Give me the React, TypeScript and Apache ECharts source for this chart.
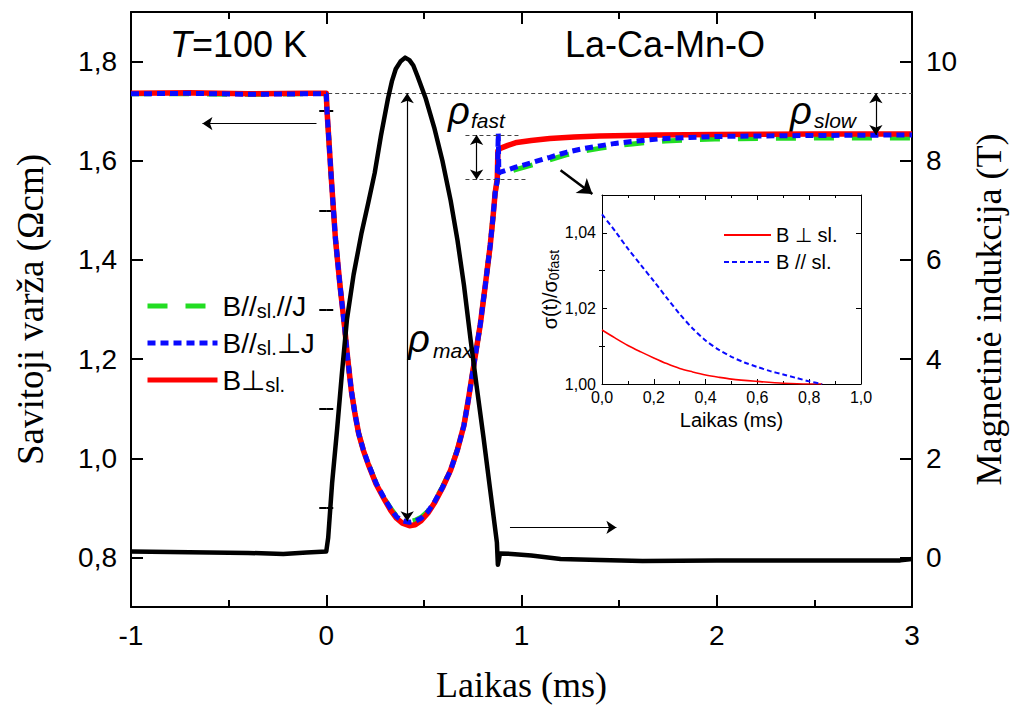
import React, { useEffect, useRef } from "react";
import * as echarts from "echarts";

// ---------------- data ----------------
const leftMajorTicks = [0.8, 1.0, 1.2, 1.4, 1.6, 1.8];
const leftMinorTicks = [0.9, 1.1, 1.3, 1.5, 1.7];
const rightMajorTicks = [0, 2, 4, 6, 8, 10];
const rightMinorTicks = [1, 3, 5, 7, 9];
const insetYMajorTicks = [1.0, 1.02, 1.04];
const insetYMinorTicks = [1.01, 1.03];

// magnetic field pulse (T)
const fieldTime = [-1, -0.8, -0.6, -0.4, -0.22, -0.1, 0, 0.01, 0.03, 0.056, 0.08, 0.106, 0.14, 0.181, 0.215, 0.248, 0.28, 0.316, 0.336, 0.356, 0.38, 0.404, 0.426, 0.446, 0.468, 0.51, 0.553, 0.595, 0.637, 0.672, 0.705, 0.739, 0.772, 0.806, 0.84, 0.874, 0.879, 0.89, 0.95, 1.05, 1.2, 1.4, 1.62, 2.0, 2.4, 2.94, 3];
const fieldValue = [0.12, 0.11, 0.1, 0.09, 0.07, 0.1, 0.12, 0.4, 1.5, 2.6, 3.7, 4.8, 5.7, 6.55, 7.15, 7.75, 8.5, 9.25, 9.6, 9.85, 10.0, 10.08, 10.03, 9.92, 9.7, 9.25, 8.67, 8.0, 7.2, 6.4, 5.5, 4.4, 3.4, 2.4, 1.35, 0.3, -0.15, 0.08, 0.07, 0.04, -0.03, -0.05, -0.07, -0.06, -0.06, -0.06, -0.03];

// resistivity, B perpendicular to film
const redTime = [-1, -0.7, -0.4, -0.1, 0, 0.004, 0.025, 0.047, 0.07, 0.094, 0.11, 0.129, 0.147, 0.166, 0.19, 0.214, 0.255, 0.299, 0.33, 0.36, 0.39, 0.426, 0.456, 0.486, 0.52, 0.553, 0.595, 0.637, 0.672, 0.705, 0.726, 0.747, 0.768, 0.789, 0.815, 0.84, 0.855, 0.865, 0.876, 0.879, 0.891, 0.93, 0.976, 1.05, 1.145, 1.27, 1.4, 1.7, 1.99, 2.5, 3];
const redRho = [1.736, 1.737, 1.735, 1.736, 1.736, 1.7, 1.57, 1.443, 1.35, 1.265, 1.2, 1.135, 1.09, 1.05, 1.016, 0.989, 0.948, 0.916, 0.895, 0.879, 0.869, 0.864, 0.866, 0.874, 0.889, 0.909, 0.94, 0.976, 1.017, 1.066, 1.114, 1.166, 1.218, 1.27, 1.35, 1.43, 1.49, 1.535, 1.564, 1.62, 1.625, 1.631, 1.637, 1.641, 1.645, 1.648, 1.65, 1.652, 1.653, 1.654, 1.654];

// B // film, perpendicular to J
const blueTime = [-1, -0.7, -0.4, -0.1, 0, 0.004, 0.025, 0.047, 0.07, 0.094, 0.11, 0.129, 0.147, 0.166, 0.19, 0.214, 0.255, 0.299, 0.33, 0.36, 0.39, 0.426, 0.456, 0.486, 0.52, 0.553, 0.595, 0.637, 0.672, 0.705, 0.726, 0.747, 0.768, 0.789, 0.815, 0.84, 0.855, 0.865, 0.876, 0.881, 0.884, 0.891, 0.97, 1.06, 1.145, 1.229, 1.31, 1.4, 1.48, 1.568, 1.65, 1.737, 1.86, 1.99, 2.5, 3];
const blueRho = [1.735, 1.736, 1.734, 1.735, 1.735, 1.7, 1.57, 1.443, 1.35, 1.265, 1.2, 1.135, 1.09, 1.05, 1.017, 0.99, 0.95, 0.918, 0.898, 0.882, 0.874, 0.871, 0.873, 0.879, 0.892, 0.911, 0.941, 0.976, 1.017, 1.066, 1.114, 1.166, 1.218, 1.27, 1.35, 1.43, 1.49, 1.535, 1.56, 1.655, 1.575, 1.577, 1.587, 1.597, 1.607, 1.617, 1.624, 1.63, 1.635, 1.639, 1.642, 1.645, 1.647, 1.649, 1.651, 1.652];

// B // film // J
const greenTime = [-1, -0.7, -0.4, -0.1, 0, 0.004, 0.025, 0.047, 0.07, 0.094, 0.11, 0.129, 0.147, 0.166, 0.19, 0.214, 0.255, 0.299, 0.33, 0.36, 0.39, 0.426, 0.456, 0.486, 0.52, 0.553, 0.595, 0.637, 0.672, 0.705, 0.726, 0.747, 0.768, 0.789, 0.815, 0.84, 0.855, 0.865, 0.876, 0.884, 0.891, 0.97, 1.06, 1.145, 1.229, 1.31, 1.4, 1.48, 1.568, 1.65, 1.737, 1.86, 1.99, 2.5, 3];
const greenRho = [1.735, 1.735, 1.734, 1.735, 1.735, 1.7, 1.57, 1.443, 1.35, 1.265, 1.2, 1.135, 1.09, 1.05, 1.017, 0.99, 0.95, 0.918, 0.899, 0.883, 0.875, 0.872, 0.875, 0.881, 0.893, 0.912, 0.942, 0.977, 1.018, 1.066, 1.114, 1.166, 1.218, 1.27, 1.35, 1.43, 1.49, 1.535, 1.56, 1.571, 1.572, 1.582, 1.592, 1.602, 1.612, 1.619, 1.625, 1.63, 1.634, 1.637, 1.64, 1.642, 1.644, 1.646, 1.646];

// inset: normalized conductivity
const insetRedTime = [0, 0.05, 0.1, 0.15, 0.2, 0.25, 0.3, 0.35, 0.4, 0.45, 0.5, 0.6, 0.7, 0.8, 0.85];
const insetRedValue = [1.0143, 1.0122, 1.0102, 1.0085, 1.0069, 1.0054, 1.0041, 1.0032, 1.0024, 1.0018, 1.0013, 1.0007, 1.0002, 1.0, 1.0];
const insetBlueTime = [0, 0.05, 0.1, 0.15, 0.2, 0.25, 0.3, 0.35, 0.4, 0.45, 0.5, 0.55, 0.6, 0.65, 0.7, 0.75, 0.8, 0.85];
const insetBlueValue = [1.0449, 1.0405, 1.0358, 1.0315, 1.0272, 1.0228, 1.0185, 1.0147, 1.0115, 1.0091, 1.0072, 1.0057, 1.0045, 1.0034, 1.0025, 1.0016, 1.0007, 1.0];

// annotation levels (data units)
const rhoStart = 1.736;
const rhoFastTop = 1.652;
const rhoFastBottom = 1.562;
const rhoMin = 0.873;

const SANS = "'Liberation Sans', Arial, sans-serif";
const SERIF = "'Liberation Serif', 'Times New Roman', serif";

const zip = (a: number[], b: number[]) => a.map((v, i) => [v, b[i]]);
const comma = (d: number) => (v: number) => v.toFixed(d).replace(".", ",");

const BLACK = "#000";

function tickOnlyAxis(extra: any) {
  return {
    type: "value",
    axisLine: { show: false },
    axisLabel: { show: false },
    splitLine: { show: false },
    ...extra,
  };
}

function buildOption() {
  const mainTick = { show: true, inside: true, length: 12, lineStyle: { color: BLACK, width: 2 } };
  const mainMinor = { show: true, splitNumber: 2, length: 7, lineStyle: { color: BLACK, width: 2 } };
  const insetTick = { show: true, inside: true, length: 5, lineStyle: { color: BLACK, width: 1 } };
  const insetMinor = { show: true, splitNumber: 2, length: 3, lineStyle: { color: BLACK, width: 1 } };
  const mainLine = { show: true, onZero: false, lineStyle: { color: BLACK, width: 2 } };
  const insetLine = { show: true, onZero: false, lineStyle: { color: BLACK, width: 1 } };

  const dashed = (a: number[], b: number[]) => [
    { coord: a, symbol: "none", lineStyle: { type: [4, 3], color: "#444", width: 1 } },
    { coord: b, symbol: "none" },
  ];
  const arrow = (a: number[], b: number[], both: boolean, width = 1.2, size = 10) => [
    { coord: a, symbol: both ? "arrow" : "none", symbolSize: size, lineStyle: { type: "solid", color: BLACK, width } },
    { coord: b, symbol: "arrow", symbolSize: size },
  ];

  return {
    animation: false,
    backgroundColor: "#fff",
    grid: [
      { left: 131, top: 12, width: 787, height: 598 },
      { left: 602, top: 195, width: 259, height: 189 },
    ],
    xAxis: [
      {
        type: "value", gridIndex: 0, position: "bottom", min: -1, max: 3, interval: 1,
        axisLine: mainLine, axisTick: mainTick, minorTick: mainMinor, splitLine: { show: false },
        axisLabel: { fontFamily: SANS, fontSize: 28, color: BLACK, margin: 14 },
        name: "Laikas (ms)", nameLocation: "middle", nameGap: 60,
        nameTextStyle: { fontFamily: SERIF, fontSize: 36, color: BLACK },
      },
      {
        type: "value", gridIndex: 0, position: "top", min: -1, max: 3, interval: 1,
        axisLine: mainLine, axisTick: mainTick, minorTick: mainMinor, splitLine: { show: false },
        axisLabel: { show: false },
      },
      {
        type: "value", gridIndex: 1, position: "bottom", min: 0, max: 1, interval: 0.2,
        axisLine: insetLine, axisTick: insetTick, minorTick: insetMinor, splitLine: { show: false },
        axisLabel: { fontFamily: SANS, fontSize: 16, color: BLACK, margin: 5, formatter: comma(1) },
        name: "Laikas (ms)", nameLocation: "middle", nameGap: 26,
        nameTextStyle: { fontFamily: SANS, fontSize: 20, color: BLACK },
      },
      {
        type: "value", gridIndex: 1, position: "top", min: 0, max: 1, interval: 0.2,
        axisLine: insetLine, axisTick: insetTick, minorTick: insetMinor, splitLine: { show: false },
        axisLabel: { show: false },
      },
    ],
    yAxis: [
      {
        type: "value", gridIndex: 0, position: "left", min: 0.7, max: 1.9,
        axisLine: mainLine,
        axisTick: { ...mainTick, customValues: leftMajorTicks },
        axisLabel: { customValues: leftMajorTicks, formatter: comma(1), fontFamily: SANS, fontSize: 28, color: BLACK, margin: 14 },
        splitLine: { show: false },
        name: "Savitoji varža (Ωcm)", nameLocation: "middle", nameGap: 82,
        nameTextStyle: { fontFamily: SERIF, fontSize: 37, color: BLACK },
      },
      tickOnlyAxis({
        gridIndex: 0, position: "left", min: 0.7, max: 1.9,
        axisTick: { show: true, inside: true, length: 7, lineStyle: { color: BLACK, width: 2 }, customValues: leftMinorTicks },
      }),
      {
        type: "value", gridIndex: 0, position: "right", min: -1, max: 11,
        axisLine: mainLine,
        axisTick: { ...mainTick, customValues: rightMajorTicks },
        axisLabel: { customValues: rightMajorTicks, fontFamily: SANS, fontSize: 28, color: BLACK, margin: 14 },
        splitLine: { show: false },
        name: "Magnetinė indukcija (T)", nameLocation: "middle", nameGap: 59,
        nameTextStyle: { fontFamily: SERIF, fontSize: 36, color: BLACK },
      },
      tickOnlyAxis({
        gridIndex: 0, position: "right", min: -1, max: 11,
        axisTick: { show: true, inside: true, length: 7, lineStyle: { color: BLACK, width: 2 }, customValues: rightMinorTicks },
      }),
      {
        type: "value", gridIndex: 1, position: "left", min: 1.0, max: 1.05,
        axisLine: insetLine,
        axisTick: { ...insetTick, customValues: insetYMajorTicks },
        axisLabel: { customValues: insetYMajorTicks, formatter: comma(2), fontFamily: SANS, fontSize: 16, color: BLACK, margin: 6 },
        splitLine: { show: false },
        name: "{a|σ(t)/σ}{b|0fast}", nameLocation: "middle", nameGap: 40,
        nameTextStyle: {
          color: BLACK,
          rich: {
            a: { fontFamily: SANS, fontSize: 20, color: BLACK },
            b: { fontFamily: SANS, fontSize: 14, color: BLACK, padding: [8, 0, 0, 0] },
          },
        },
      },
      tickOnlyAxis({
        gridIndex: 1, position: "left", min: 1.0, max: 1.05,
        axisTick: { show: true, inside: true, length: 3, lineStyle: { color: BLACK, width: 1 }, customValues: insetYMinorTicks },
      }),
      {
        type: "value", gridIndex: 1, position: "right", min: 1.0, max: 1.05,
        axisLine: insetLine,
        axisTick: { ...insetTick, customValues: insetYMajorTicks },
        axisLabel: { show: false }, splitLine: { show: false },
      },
      tickOnlyAxis({
        gridIndex: 1, position: "right", min: 1.0, max: 1.05,
        axisTick: { show: true, inside: true, length: 3, lineStyle: { color: BLACK, width: 1 }, customValues: insetYMinorTicks },
      }),
    ],
    legend: [
      {
        data: ["B//sl.//J", "B//sl.⊥J", "B⊥sl."],
        orient: "vertical", left: 140, top: 286, itemWidth: 70, itemHeight: 14, itemGap: 7,
        selectedMode: false,
        itemStyle: { opacity: 0 },
        lineStyle: { width: 5 },
        formatter: (n: string) =>
          n === "B//sl.//J" ? "{b|B//}{s|sl.}{b|//J}" : n === "B//sl.⊥J" ? "{b|B//}{s|sl.}{b|⊥J}" : "{b|B⊥}{s|sl.}",
        textStyle: {
          fontFamily: SANS, fontSize: 28, color: BLACK, lineHeight: 30,
          rich: {
            b: { fontFamily: SANS, fontSize: 28, color: BLACK, lineHeight: 30 },
            s: { fontFamily: SANS, fontSize: 20, color: BLACK, lineHeight: 24, verticalAlign: "bottom" },
          },
        },
      },
      {
        data: ["B ⊥ sl.", "B // sl."],
        orient: "vertical", left: 718, top: 220, itemWidth: 47, itemHeight: 14, itemGap: 7,
        selectedMode: false,
        itemStyle: { opacity: 0 },
        lineStyle: { width: 2 },
        textStyle: { fontFamily: SANS, fontSize: 20, color: BLACK, lineHeight: 20 },
      },
    ],
    series: [
      {
        name: "B//sl.//J", type: "line", xAxisIndex: 0, yAxisIndex: 0, data: zip(greenTime, greenRho),
        symbol: "none",
        lineStyle: { color: "#22dd22", width: 5, type: [20, 18] }, itemStyle: { color: "#22dd22" }, z: 2,
      },
      {
        name: "B⊥sl.", type: "line", xAxisIndex: 0, yAxisIndex: 0, data: zip(redTime, redRho),
        symbol: "none",
        lineStyle: { color: "#ff0000", width: 5.5, join: "round" }, itemStyle: { color: "#ff0000" }, z: 3,
        markLine: {
          silent: true, animation: false, label: { show: false }, symbol: ["none", "none"],
          emphasis: { disabled: true },
          data: [
            dashed([0.01, rhoStart], [3, rhoStart]),
            dashed([0.713, rhoFastTop], [1.0, rhoFastTop]),
            dashed([0.713, rhoFastBottom], [1.028, rhoFastBottom]),
            arrow([-0.05, 1.675], [-0.634, 1.675], false),
            arrow([0.941, 0.8605], [1.486, 0.8605], false),
            arrow([0.4145, rhoStart], [0.4145, rhoMin], true),
            arrow([0.77, rhoFastTop], [0.77, rhoFastBottom], true),
            arrow([2.815, rhoStart], [2.815, rhoFastTop], true),
            arrow([1.2, 1.581], [1.363, 1.533], false, 2.5, 14),
          ],
        },
      },
      {
        name: "B//sl.⊥J", type: "line", xAxisIndex: 0, yAxisIndex: 0, data: zip(blueTime, blueRho),
        symbol: "none",
        lineStyle: { color: "#0a0aff", width: 5, type: [8, 5] }, itemStyle: { color: "#0a0aff" }, z: 4,
      },
      {
        name: "field", type: "line", xAxisIndex: 0, yAxisIndex: 2, data: zip(fieldTime, fieldValue),
        symbol: "none",
        lineStyle: { color: BLACK, width: 4.5, join: "round" }, itemStyle: { color: BLACK }, z: 5,
      },
      {
        name: "B ⊥ sl.", type: "line", xAxisIndex: 2, yAxisIndex: 4, data: zip(insetRedTime, insetRedValue),
        symbol: "none", smooth: 0.3,
        lineStyle: { color: "#ff0000", width: 1.6 }, itemStyle: { color: "#ff0000" },
      },
      {
        name: "B // sl.", type: "line", xAxisIndex: 2, yAxisIndex: 4, data: zip(insetBlueTime, insetBlueValue),
        symbol: "none", smooth: 0.3,
        lineStyle: { color: "#0a0aff", width: 2, type: [5, 3] }, itemStyle: { color: "#0a0aff" },
      },
    ],
    graphic: [
      { type: "text", left: 170, top: 26, style: { text: "T", font: `italic 36px ${SANS}`, fill: BLACK } },
      { type: "text", left: 192, top: 26, style: { text: "=100 K", font: `36px ${SANS}`, fill: BLACK } },
      { type: "text", left: 565, top: 26, style: { text: "La-Ca-Mn-O", font: `36px ${SANS}`, fill: BLACK } },
      { type: "text", left: 448, top: 92, style: { text: "ρ", font: `italic 38px ${SANS}`, fill: BLACK } },
      { type: "text", left: 471, top: 110, style: { text: "fast", font: `italic 21px ${SANS}`, fill: BLACK } },
      { type: "text", left: 790, top: 92, style: { text: "ρ", font: `italic 38px ${SANS}`, fill: BLACK } },
      { type: "text", left: 814, top: 110, style: { text: "slow", font: `italic 21px ${SANS}`, fill: BLACK } },
      { type: "text", left: 408, top: 320, style: { text: "ρ", font: `italic 38px ${SANS}`, fill: BLACK } },
      { type: "text", left: 433, top: 340, style: { text: "max", font: `italic 21px ${SANS}`, fill: BLACK } },
    ],
  };
}

export default function App() {
  const ref = useRef<HTMLDivElement>(null);
  useEffect(() => {
    const chart = echarts.init(ref.current!, null, { renderer: "svg" });
    chart.setOption(buildOption() as any);
    return () => chart.dispose();
  }, []);
  return (
    <div
      ref={ref}
      style={{ position: "absolute", left: 0, top: 0, width: 1015, height: 708, background: "#fff" }}
    />
  );
}
